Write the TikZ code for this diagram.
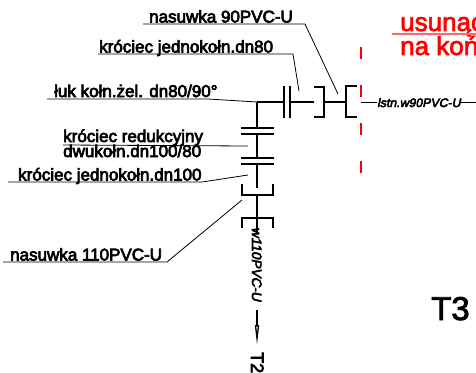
\documentclass[tikz,border=0pt]{standalone}
\usepackage{fontspec}
\setmainfont{Liberation Sans}
\newfontfamily\cadfont[FakeBold=4]{Liberation Sans}
\newfontfamily\notefont[FakeBold=2.5]{Liberation Sans}
\newfontfamily\cadslant[FakeBold=4,FakeSlant=0.2]{Liberation Sans}
\definecolor{notered}{RGB}{255,0,0}
\usetikzlibrary{calc}
\usetikzlibrary{positioning}
\usetikzlibrary{arrows.meta}

\begin{document}
\begin{tikzpicture}[
	x=1pt, y=-1pt,
	> = {Triangle[open,length=20pt,width=4pt]},
	lbl/.style = {inner sep=0pt,anchor=base west,font=\cadfont\fontsize{17}{17}\selectfont},
	pipelbl/.style = {inner sep=0pt,font=\cadslant\fontsize{12.3}{12.3}\selectfont},
	notelbl/.style = {inner sep=0pt,anchor=base west,text=notered,font=\notefont\fontsize{26}{26}\selectfont},
	lead/.style = {line width=0.8pt},
	thin pipe/.style = {line width=1.3pt},
	fat pipe/.style = {line width=2pt},
	redcut/.style = {draw=notered,line width=1.2pt}
  ]
	\useasboundingbox (0,0) rectangle (476,372);
	\clip (0,0) rectangle (476,372);

	% labels
	\node[lbl] (nas90) at (149,22.5) {nasuwka 90PVC-U};
	\node[lbl] (kro80) at (99,52.5) {króciec jednokołn.dn80};
	\node[lbl] (luk) at (54,97) {łuk kołn.żel. dn80/90°};
	\node[lbl] (red1) at (63,142) {króciec redukcyjny};
	\node[lbl] (red2) at (63,157) {dwukołn.dn100/80};
	\node[lbl] (kro100) at (18,180.5) {króciec jednokołn.dn100};
	\node[lbl] (nas110) at (10,260.5) {nasuwka 110PVC-U};

	\coordinate (@1) at (143,24);
	\coordinate (@2) at (305,24);
	\coordinate (@3) at (338,94);
	\coordinate (@4) at (98,54);
	\coordinate (@5) at (293,54);
	\coordinate (@6) at (299,91);
	\coordinate (@7) at (47,99);
	\coordinate (@8) at (208,99);
	\coordinate (elbow) at (257,102);
	\coordinate (@9) at (63,145);
	\coordinate (@10) at (248,146);
	\coordinate (@11) at (8,182);
	\coordinate (@12) at (202,182);
	\coordinate (@13) at (248,175);
	\coordinate (@14) at (3,262);
	\coordinate (@15) at (167,262);
	\coordinate (@16) at (242,200);

	\draw[lead] (@1) -- (@2) -- (@3);
	\draw[lead] (@4) -- (@5) -- (@6);
	\draw[lead] (@7) -- (@8) -- (elbow);
	\draw[lead] (@9) -- (@10);
	\draw[lead] (@11) -- (@12) -- (@13);
	\draw[lead] (@14) -- (@15) -- (@16);

	% horizontal branch
	\draw[fat pipe] (elbow) -- (284,102);
	\draw[fat pipe] (284,86) -- (284,118);
	\draw[fat pipe] (290,86) -- (290,118);
	\draw[thin pipe] (290,102) -- (314,102);
	\draw[fat pipe] (314,87) -- (324,87) -- (324,117) -- (314,117);
	\draw[thin pipe] (324,102) -- (346,102);
	\draw[fat pipe] (357,86) -- (346,86) -- (346,117) -- (357,117);

	\node[pipelbl,anchor=base west] (w90) at (377,107) {lstn.w90PVC-U};
	\draw[lead] (361,102) -- (w90.west |- 0,102);
	\draw[lead] (w90.east |- 0,102) -- (476,102);

	% vertical branch
	\draw[fat pipe] (elbow) -- (257,128);
	\draw[fat pipe] (241,128) -- (274,128);
	\draw[fat pipe] (241,134) -- (274,134);
	\draw[fat pipe] (257,134) -- (257,158);
	\draw[fat pipe] (241,158) -- (274,158);
	\draw[fat pipe] (241,164) -- (274,164);
	\draw[thin pipe] (257,164) -- (257,188);
	\draw[fat pipe] (242,184) -- (242,195) -- (273,195) -- (273,184);
	\draw[fat pipe] (257,195) -- (257,218);
	\draw[fat pipe] (242,228) -- (242,218) -- (273,218) -- (273,228);

	\node[pipelbl,rotate=-90,anchor=base west,font=\cadslant\fontsize{13.6}{13.6}\selectfont] (w110) at (252,227) {w110PVC-U};
	\coordinate (@17) at (257,234);
	\coordinate (@18) at (257,310);
	\coordinate (tipT2) at (257,345);
	\draw[thin pipe] (257,218) -- (@17);
	\draw[thin pipe,->] (@18) -- (tipT2);
	\node[lbl,rotate=-90,font=\cadfont\fontsize{18}{18}\selectfont] (T2) at (251,352) {T2};

	% red note
	\draw[redcut,dash pattern=on 12pt off 26pt] (361,47) -- (361,175);
	\node[notelbl] (note1) at (400,31) {usunąć};
	\node[notelbl] (note2) at (400,55) {na koń};
	\draw[notered!60,line width=1.2pt] (392,34) -- (476,34);

	\node[inner sep=0pt,anchor=base west,font=\notefont\fontsize{33}{33}\selectfont] (T3) at (431,320) {T3};

\end{tikzpicture}
\end{document}
